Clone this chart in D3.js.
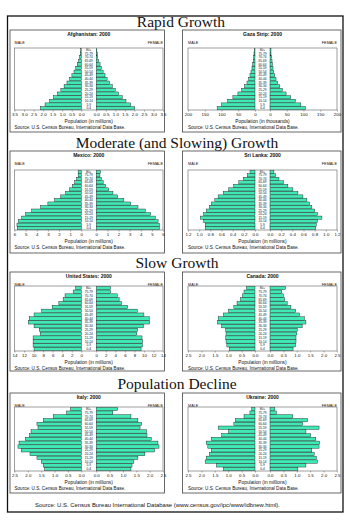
<!DOCTYPE html>
<html>
<head>
  <meta charset="utf-8">
  <title>Population pyramids, 2000</title>
  <style>
    body { margin: 0; background: #fff; }
    .section-title { font-family: "Liberation Serif", "Times New Roman", serif; font-size: 15.5px; text-anchor: middle; fill: #111; }
    .panel { fill: #fff; stroke: #444; stroke-width: 0.8; }
    .frame { fill: none; stroke: #777; stroke-width: 0.7; }
    .bar { fill: #40e8b5; stroke: #111; stroke-width: 0.4; }
    .tiny { font-family: "Liberation Sans", Arial, sans-serif; fill: #111; }
    .axis text { font-family: "Liberation Sans", Arial, sans-serif; font-size: 4.4px; fill: #111; }
    .axis line { stroke: #555; stroke-width: 0.5; }
  </style>
  <script src="https://d3js.org/d3.v7.min.js"></script>
</head>
<body>
  <script>
    // data
    var ageGroups = ['0-4','5-9','10-14','15-19','20-24','25-29','30-34','35-39','40-44',
                     '45-49','50-54','55-59','60-64','65-69','70-74','75-79','80+'];
    var sections = ['Rapid Growth', 'Moderate (and Slowing) Growth', 'Slow Growth', 'Population Decline'];
    var countries = ['Afghanistan: 2000', 'Gaza Strip: 2000', 'Mexico: 2000', 'Sri Lanka: 2000',
                     'United States: 2000', 'Canada: 2000', 'Italy: 2000', 'Ukraine: 2000'];
    var units = ['millions', 'thousands', 'millions', 'millions', 'millions', 'millions', 'millions', 'millions'];
    var axisMax = [3.5, 200, 6, 1.2, 14, 2.5, 2.5, 2.5];
    var tickStep = [0.5, 50, 1, 0.2, 2, 0.5, 0.5, 0.5];
    var tickFormat = ['.1f', 'd', 'd', '.1f', 'd', '.1f', '.1f', '.1f'];

    // values from 0-4 up to 80+
    var afghanistanMale   = [2.14, 1.90, 1.66, 1.45, 1.25, 1.07, 0.90, 0.75, 0.61, 0.49, 0.38, 0.29, 0.21, 0.14, 0.09, 0.05, 0.03];
    var afghanistanFemale = [2.02, 1.80, 1.56, 1.36, 1.17, 1.00, 0.84, 0.70, 0.57, 0.46, 0.36, 0.27, 0.20, 0.13, 0.08, 0.05, 0.03];
    var gazaMale   = [113, 100, 82, 66, 51, 40, 31, 24, 19, 15, 12, 9, 7, 5, 4, 3, 2];
    var gazaFemale = [106, 92, 76, 62, 48, 37, 29, 23, 18, 14, 11, 9, 7, 6, 5, 3, 3];
    var mexicoMale   = [5.75, 5.78, 5.65, 5.35, 5.00, 4.45, 3.65, 3.00, 2.40, 1.85, 1.40, 1.05, 0.80, 0.58, 0.42, 0.28, 0.28];
    var mexicoFemale = [5.68, 5.68, 5.56, 5.30, 4.90, 4.40, 3.75, 3.10, 2.48, 1.92, 1.50, 1.12, 0.85, 0.62, 0.46, 0.33, 0.38];
    var sriLankaMale   = [0.89, 0.89, 0.92, 0.98, 0.92, 0.87, 0.82, 0.78, 0.72, 0.66, 0.57, 0.47, 0.38, 0.29, 0.21, 0.14, 0.09];
    var sriLankaFemale = [0.82, 0.83, 0.85, 0.93, 0.85, 0.80, 0.75, 0.71, 0.66, 0.59, 0.50, 0.41, 0.32, 0.24, 0.16, 0.10, 0.07];
    var usMale   = [9.9, 10.1, 10.1, 10.1, 8.6, 8.8, 9.9, 11.1, 10.9, 9.9, 8.3, 6.1, 4.7, 3.8, 3.4, 1.7, 1.2];
    var usFemale = [9.4, 9.7, 9.7, 9.6, 8.5, 8.7, 9.9, 11.2, 11.1, 10.0, 8.6, 6.6, 5.3, 4.8, 4.4, 3.0, 3.0];
    var canadaMale   = [0.96, 1.05, 1.08, 1.09, 1.08, 1.09, 1.24, 1.40, 1.37, 1.18, 0.99, 0.79, 0.67, 0.54, 0.47, 0.41, 0.32];
    var canadaFemale = [0.86, 0.95, 0.97, 0.97, 1.00, 1.02, 1.20, 1.34, 1.28, 1.10, 0.96, 0.78, 0.64, 0.55, 0.50, 0.44, 0.58];
    var italyMale   = [1.37, 1.42, 1.50, 1.66, 1.92, 2.25, 2.37, 2.33, 2.10, 1.93, 1.88, 1.62, 1.66, 1.42, 1.05, 0.55, 0.40];
    var italyFemale = [1.30, 1.34, 1.41, 1.56, 1.82, 2.18, 2.35, 2.31, 2.06, 1.90, 1.88, 1.64, 1.70, 1.56, 1.30, 0.62, 0.80];
    var ukraineMale   = [1.18, 1.44, 1.86, 1.82, 1.70, 1.63, 1.76, 1.82, 1.63, 1.24, 0.99, 1.37, 0.79, 0.73, 0.41, 0.19, 0.12];
    var ukraineFemale = [1.04, 1.34, 1.77, 1.73, 1.65, 1.56, 1.83, 1.85, 1.71, 1.52, 1.34, 1.83, 1.22, 1.40, 0.85, 0.24, 0.18];

    var maleData = [afghanistanMale, gazaMale, mexicoMale, sriLankaMale, usMale, canadaMale, italyMale, ukraineMale];
    var femaleData = [afghanistanFemale, gazaFemale, mexicoFemale, sriLankaFemale, usFemale, canadaFemale, italyFemale, ukraineFemale];

    // layout
    var rowTop = [30, 151, 272, 393];
    var rowHeight = [102, 102, 99, 100];
    var frameTop = [48, 170, 286, 407];
    var frameBottom = [110, 230, 351, 471];
    var sectionY = [27, 148, 268, 389];
    var sectionX = [181, 177, 177, 177];
    var panelLeft = [10, 182.5];
    var panelWidth = [154.5, 158.5];
    var frameLeft = [14.5, 188];
    var frameRight = [163, 337];
    var gap = 7.5;

    var svg = d3.select('body')
      .append('svg')
      .attr('width', 350)
      .attr('height', 520);

    // outer border
    svg.append('rect')
      .attr('x', 7.5).attr('y', 16)
      .attr('width', 335.5).attr('height', 496)
      .attr('fill', 'none')
      .attr('stroke', '#111')
      .attr('stroke-width', 1.3);

    svg.selectAll('.section-title')
      .data(sections)
      .enter()
      .append('text')
      .attr('class', 'section-title')
      .attr('x', (d, i) => sectionX[i])
      .attr('y', (d, i) => sectionY[i])
      .text(d => d);

    countries.forEach(function(name, i) {
      var row = Math.floor(i / 2), col = i % 2;
      var top = rowTop[row];
      var fl = frameLeft[col], fr = frameRight[col];
      var ft = frameTop[row], fb = frameBottom[row];
      var mid = (fl + fr) / 2;
      var g = svg.append('g');

      g.append('rect')
        .attr('class', 'panel')
        .attr('x', panelLeft[col]).attr('y', top)
        .attr('width', panelWidth[col]).attr('height', rowHeight[row]);

      g.append('text')
        .attr('class', 'tiny')
        .attr('x', mid).attr('y', top + 5.8)
        .attr('text-anchor', 'middle')
        .attr('font-size', 5)
        .attr('font-weight', 'bold')
        .text(name);

      g.append('text')
        .attr('class', 'tiny')
        .attr('x', fl).attr('y', top + 14)
        .attr('font-size', 3.8)
        .text('MALE');
      g.append('text')
        .attr('class', 'tiny')
        .attr('x', fr).attr('y', top + 14)
        .attr('text-anchor', 'end')
        .attr('font-size', 3.8)
        .text('FEMALE');

      var xMale = d3.scaleLinear().domain([0, axisMax[i]]).range([mid - gap, fl]);
      var xFemale = d3.scaleLinear().domain([0, axisMax[i]]).range([mid + gap, fr]);
      var y = d3.scaleBand().domain(ageGroups).range([fb, ft]).paddingInner(0.1).paddingOuter(0.05);

      g.selectAll('.male')
        .data(maleData[i])
        .enter()
        .append('rect')
        .attr('class', 'bar')
        .attr('x', d => xMale(d))
        .attr('y', (d, j) => y(ageGroups[j]))
        .attr('width', d => xMale(0) - xMale(d))
        .attr('height', y.bandwidth());

      g.selectAll('.female')
        .data(femaleData[i])
        .enter()
        .append('rect')
        .attr('class', 'bar')
        .attr('x', xFemale(0))
        .attr('y', (d, j) => y(ageGroups[j]))
        .attr('width', d => xFemale(d) - xFemale(0))
        .attr('height', y.bandwidth());

      g.selectAll('.age')
        .data(ageGroups)
        .enter()
        .append('text')
        .attr('class', 'tiny')
        .attr('x', mid)
        .attr('y', d => y(d) + y.bandwidth() / 2)
        .attr('dy', '0.35em')
        .attr('text-anchor', 'middle')
        .attr('font-size', 3.2)
        .text(d => d);

      g.append('rect')
        .attr('class', 'frame')
        .attr('x', fl).attr('y', ft)
        .attr('width', fr - fl).attr('height', fb - ft);

      var ticks = d3.range(0, axisMax[i] + tickStep[i] / 2, tickStep[i]);
      [xMale, xFemale].forEach(function(sc) {
        var ax = g.append('g')
          .attr('class', 'axis')
          .attr('transform', 'translate(0,' + fb + ')')
          .call(d3.axisBottom(sc).tickValues(ticks).tickSize(1.5).tickPadding(1).tickFormat(d3.format(tickFormat[i])));
        ax.select('.domain').remove();
      });

      g.append('text')
        .attr('class', 'tiny')
        .attr('x', mid).attr('y', fb + 13)
        .attr('text-anchor', 'middle')
        .attr('font-size', 4.8)
        .text('Population (in ' + units[i] + ')');

      g.append('text')
        .attr('class', 'tiny')
        .attr('x', fl).attr('y', fb + 18.5)
        .attr('font-size', 4.6)
        .text('Source: U.S. Census Bureau, International Data Base.');
    });

    svg.append('text')
      .attr('class', 'tiny')
      .attr('x', 157.5).attr('y', 506.5)
      .attr('text-anchor', 'middle')
      .attr('font-size', 5.6)
      .attr('textLength', 245)
      .attr('lengthAdjust', 'spacingAndGlyphs')
      .text('Source: U.S. Census Bureau International Database (www.census.gov/ipc/www/idbnew.html).');
  </script>
</body>
</html>
